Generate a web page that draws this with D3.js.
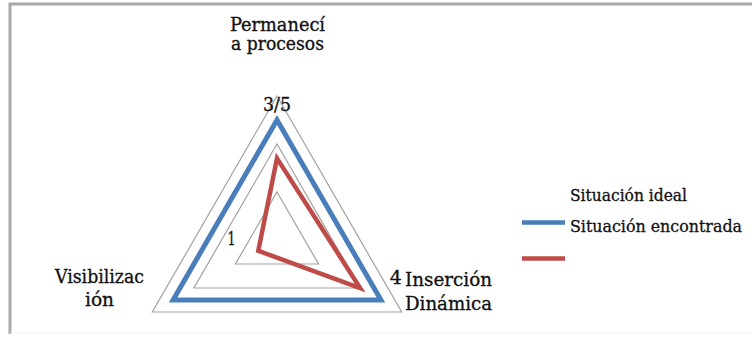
<!DOCTYPE html>
<html>
<head>
<meta charset="utf-8">
<script src="https://cdn.jsdelivr.net/npm/d3@7/dist/d3.min.js"></script>
<style>
  html, body { margin: 0; padding: 0; background: #fff; }
  svg { display: block; }
  .lbl { font-family: "DejaVu Serif Condensed", "DejaVu Serif", serif; font-stretch: condensed; fill: #111; stroke: #111; stroke-width: 0.3px; }
</style>
</head>
<body>
<svg id="chart" width="752" height="337"></svg>
<script>
// ---- data ----
const categories = ["Permanecía procesos", "Inserción Dinámica", "Visibilización"];
const categoryLines = [["Permanecí", "a procesos"], ["Inserción", "Dinámica"], ["Visibilizac", "ión"]];
const seriesNames = ["Situación ideal", "Situación encontrada"];
const idealValues = [3.5, 3.5, 3.5];
const foundValues = [2.7, 3.0, 1.45];
const gridLevels = [2, 3, 4];
const valueLabels = ["3/5", "4", "1"];
const valueLabelAxis = [0, 1, 2];
const valueLabelValue = [4, 4, 2];

// ---- layout ----
const W = 752, H = 337;
const cx = 277, cy = 240, R = 144;
const svg = d3.select("#chart");
svg.append("rect").attr("width", W).attr("height", H).attr("fill", "#fff");

// border
svg.append("path")
  .attr("d", `M10,334 L10,4 L760,4`)
  .attr("fill", "none").attr("stroke", "#a9a9a9").attr("stroke-width", 3);
svg.append("line").attr("x1", 10).attr("x2", 760).attr("y1", 333).attr("y2", 333)
  .attr("stroke", "#f0f0f0").attr("stroke-width", 1);

const r = d3.scaleLinear().domain([1, 4]).range([0, R]);
const angle = d3.scalePoint().domain(d3.range(categories.length)).range([0, 2 * Math.PI * (categories.length - 1) / categories.length]);

function pt(i, v) {
  const a = angle(i) - Math.PI / 2;
  return [cx + r(v) * Math.cos(a), cy + r(v) * Math.sin(a)];
}
const line = d3.line().curve(d3.curveLinearClosed);

const g = svg.append("g");
// grid triangles
g.selectAll("path.grid").data(gridLevels).join("path")
  .attr("class", "grid")
  .attr("d", lv => line(categories.map((c, i) => pt(i, lv))))
  .attr("fill", "none").attr("stroke", "#a3a19c").attr("stroke-width", 1.2);

// series
const series = [
  { name: seriesNames[0], values: idealValues, color: "#4a7ebb", w: 5 },
  { name: seriesNames[1], values: foundValues, color: "#be4b48", w: 4.5 }
];
g.selectAll("path.series").data(series).join("path")
  .attr("class", "series")
  .attr("d", s => line(s.values.map((v, i) => pt(i, v))))
  .attr("fill", "none").attr("stroke", s => s.color).attr("stroke-width", s => s.w)
  .attr("stroke-linejoin", "miter");

// value labels
const vlOffsets = [[0, 15, "middle", 28, 18], [0, -28, "end", 12, 18], [0, -19, "end", 8, 19]];
valueLabels.forEach((t, k) => {
  const p = pt(valueLabelAxis[k], valueLabelValue[k]);
  svg.append("text").attr("class", "lbl")
    .attr("x", p[0] + vlOffsets[k][0]).attr("y", p[1] + vlOffsets[k][1])
    .attr("text-anchor", vlOffsets[k][2])
    .attr("textLength", vlOffsets[k][3]).attr("lengthAdjust", "spacingAndGlyphs")
    .style("font-size", vlOffsets[k][4] + "px").text(t);
});

// category labels
const catPos = [
  { x: 277.5, y: 31, anchor: "middle", gap: 19, len: [95, 93] },
  { x: 405, y: 286, anchor: "start", gap: 24, len: [87, 87] },
  { x: 99.5, y: 283, anchor: "middle", gap: 23, len: [89, 29] }
];
categoryLines.forEach((lines, i) => {
  const t = svg.append("text").attr("class", "lbl")
    .attr("text-anchor", catPos[i].anchor)
    .style("font-size", "18px");
  lines.forEach((ln, j) => {
    t.append("tspan").attr("x", catPos[i].x).attr("y", catPos[i].y + j * catPos[i].gap)
      .attr("textLength", catPos[i].len[j]).attr("lengthAdjust", "spacingAndGlyphs")
      .text(ln);
  });
});

// legend (as drawn in reference: labels offset one row above their swatches)
const legX = 522, legW = 43;
const legSwatchY = [222.5, 258.5];
const legTextY = [201, 232];
const legLen = [117, 172];
series.forEach((s, k) => {
  svg.append("line").attr("x1", legX).attr("x2", legX + legW)
    .attr("y1", legSwatchY[k]).attr("y2", legSwatchY[k])
    .attr("stroke", s.color).attr("stroke-width", 4.5);
  svg.append("text").attr("class", "lbl").attr("x", 570).attr("y", legTextY[k])
    .attr("textLength", legLen[k]).attr("lengthAdjust", "spacingAndGlyphs")
    .style("font-size", "17px").text(s.name);
});
</script>
</body>
</html>
